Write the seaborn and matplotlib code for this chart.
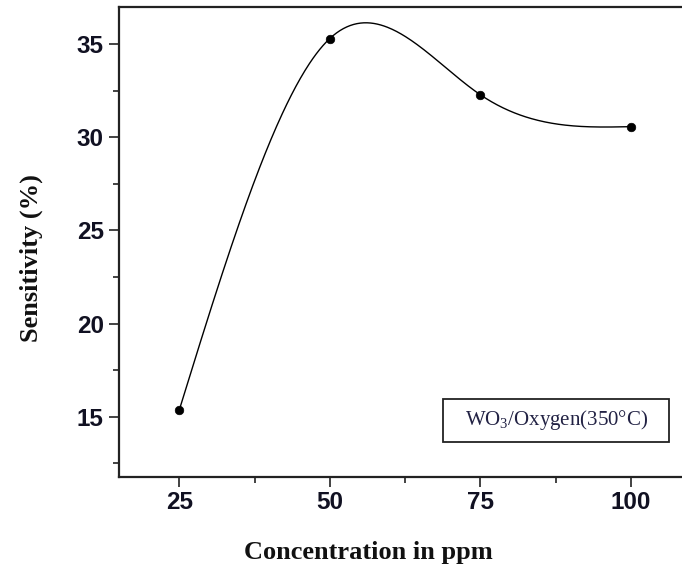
import numpy as np
import pandas as pd
import matplotlib
matplotlib.use("Agg")
import matplotlib.pyplot as plt
import seaborn as sns
from matplotlib.patches import Rectangle

# ---- data ----
concentration = [25, 50, 75, 100]
sensitivity = [15.36, 35.3, 32.28, 30.57]
x_ticks = [25, 50, 75, 100]
y_ticks = [15, 20, 25, 30, 35]
legend_label = "WO$_3$/Oxygen(350°C)"
x_label = "Concentration in ppm"
y_label = "Sensitivity (%)"


def natural_cubic_spline(xs, ys, xnew):
    xs = np.asarray(xs, float)
    ys = np.asarray(ys, float)
    n = len(xs)
    h = np.diff(xs)
    A = np.zeros((n, n))
    r = np.zeros(n)
    A[0, 0] = 1
    A[-1, -1] = 1
    for i in range(1, n - 1):
        A[i, i - 1] = h[i - 1]
        A[i, i] = 2 * (h[i - 1] + h[i])
        A[i, i + 1] = h[i]
        r[i] = 6 * ((ys[i + 1] - ys[i]) / h[i] - (ys[i] - ys[i - 1]) / h[i - 1])
    M = np.linalg.solve(A, r)
    out = np.empty_like(xnew)
    for k, x in enumerate(xnew):
        i = min(max(np.searchsorted(xs, x) - 1, 0), n - 2)
        a, b = xs[i], xs[i + 1]
        hi = b - a
        out[k] = (M[i] * (b - x) ** 3 / (6 * hi) + M[i + 1] * (x - a) ** 3 / (6 * hi)
                  + (ys[i] / hi - M[i] * hi / 6) * (b - x)
                  + (ys[i + 1] / hi - M[i + 1] * hi / 6) * (x - a))
    return out


sns.set_style("ticks")
plt.rcParams["mathtext.fontset"] = "custom"
plt.rcParams["mathtext.rm"] = "Liberation Serif"
plt.rcParams["mathtext.default"] = "regular"

fig = plt.figure(figsize=(6.82, 5.69), dpi=100)
ax = fig.add_axes([0.1745, 0.161, 0.839, 0.827])

xs_fine = np.linspace(concentration[0], concentration[-1], 400)
curve = pd.DataFrame({"x": xs_fine, "y": natural_cubic_spline(concentration, sensitivity, xs_fine)})
pts = pd.DataFrame({"x": concentration, "y": sensitivity})

sns.lineplot(data=curve, x="x", y="y", ax=ax, color="black", linewidth=1.0)
sns.scatterplot(data=pts, x="x", y="y", ax=ax, color="black", s=38, edgecolor="black", zorder=5)

ax.set_xlim(15, 110)
ax.set_ylim(11.75, 37)
ax.set_xticks(x_ticks)
ax.set_yticks(y_ticks)
ax.set_xticks([37.5, 62.5, 87.5], minor=True)
ax.set_yticks([12.5, 17.5, 22.5, 27.5, 32.5], minor=True)

for s in ax.spines.values():
    s.set_linewidth(1.6)
    s.set_color("#222222")

ax.tick_params(axis="both", which="major", direction="out", length=7.5, width=1.2, color="#222222")
ax.tick_params(axis="both", which="minor", direction="out", length=4.5, width=1.2, color="#222222")
ax.tick_params(axis="x", which="major", pad=2)
ax.tick_params(axis="y", which="major", pad=3.5)
for lab in ax.get_xticklabels() + ax.get_yticklabels():
    lab.set_fontfamily("Liberation Sans")
    lab.set_fontweight("bold")
    lab.set_fontsize(17.5)
    lab.set_color("#111122")

ax.set_xlabel(x_label, fontfamily="Liberation Serif", fontweight="bold", fontsize=19, color="#111111")
ax.set_ylabel(y_label, fontfamily="Liberation Serif", fontweight="bold", fontsize=19, color="#111111")
ax.xaxis.set_label_coords(0.436, -0.135)
ax.yaxis.set_label_coords(-0.133, 0.467)

ax.add_patch(Rectangle((0.5664, 0.0752), 0.395, 0.0914, transform=ax.transAxes,
                       fill=False, edgecolor="#222222", linewidth=1.3, zorder=6))
ax.text(0.5664 + 0.395 / 2, 0.0752 + 0.0914 / 2, legend_label, transform=ax.transAxes,
        ha="center", va="center", fontfamily="Liberation Serif", fontsize=15, color="#222244")

fig.savefig("out.png", dpi=100)
